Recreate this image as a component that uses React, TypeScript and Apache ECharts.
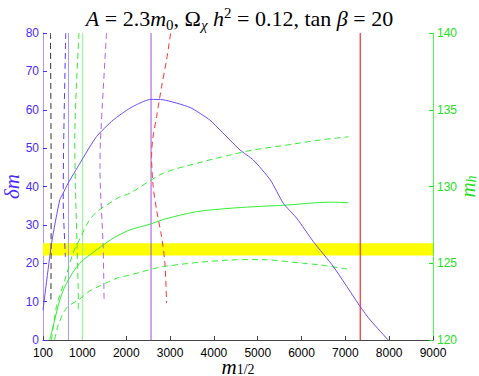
import React, { useEffect, useRef } from "react";
import * as echarts from "echarts";

// x ticks (m_1/2)
const xTicks = [100, 1000, 2000, 3000, 4000, 5000, 6000, 7000, 8000, 9000];

// delta m curve (left axis)
const dmCurve = [
  [100, 7.8], [300, 25.5], [482, 36.5], [557, 38.2], [671, 40.8], [939, 46.0],
  [1321, 53.0], [1700, 57.3], [2082, 60.4], [2400, 62.2], [2562, 62.7], [2840, 62.6],
  [3454, 60.6], [3911, 57.3], [4140, 54.7], [4368, 52.1], [4597, 49.5], [4900, 46.9],
  [5289, 41.7], [5586, 35.6], [5892, 31.7], [6271, 25.6], [6729, 19.1], [7339, 8.7],
  [7568, 5.2], [7977, 0],
];

// Higgs mass curves (right axis)
const mhCentral = [
  [253, 120], [367, 121.3], [482, 122.6], [635, 123.69], [939, 125.0], [1321, 125.86],
  [1700, 126.63], [2082, 127.17], [2562, 127.56], [2843, 127.85], [3606, 128.36],
  [4367, 128.58], [4900, 128.68], [5663, 128.79], [6653, 128.98], [7071, 128.94],
];
const mhUpper = [
  [292, 120], [406, 122.17], [482, 122.9], [635, 124.23], [786, 125.67], [939, 126.58],
  [1129, 127.67], [1321, 128.34], [1586, 128.85], [1837, 129.3], [2082, 129.56],
  [2843, 130.86], [3606, 131.51], [4367, 132.05], [4900, 132.38], [5663, 132.7],
  [6425, 133.03], [7071, 133.24],
];
const mhLower = [
  [367, 120], [443, 120.93], [635, 122.08], [939, 122.67], [1167, 123.19], [1494, 123.65],
  [1814, 124.06], [2082, 124.23], [2843, 124.78], [4367, 125.21], [5053, 125.24],
  [6043, 125.0], [6425, 124.89], [7071, 124.61],
];

// dashed contours (left axis)
const blackDashed = [[270, 80], [285, 45], [285, 25], [280, 9.6]];
const blueDashed = [[619, 80], [573, 52.1], [562, 36.5], [603, 23.5], [610, 21.6]];
const greenDashed = [[923, 80], [825, 52.1], [840, 40], [877, 24.8], [905, 10.4], [905, 7.8]];
const purpleDashed = [[1549, 80], [1412, 52.1], [1400, 45], [1471, 24.8], [1494, 10.4]];
const redDashed = [
  [3012, 79.9], [2920, 73.0], [2806, 66.0], [2692, 58.2], [2601, 52.1], [2578, 47.8],
  [2614, 40.0], [2692, 33.9], [2806, 26.9], [2882, 20.0], [2920, 9.6],
];

// vertical solid lines (x positions)
const lavenderX = 681;
const greenX = 1000;
const purpleX = 2566;
const redX = 7339;

// Higgs mass band (right axis)
const mhBand = [125.5, 126.3];

const leftColor = "#4b2bff";
const rightColor = "#22e022";

function vline(x: number) {
  return [[x, 0], [x, 80]];
}

export default function App() {
  const ref = useRef<HTMLDivElement>(null);
  useEffect(() => {
    if (!ref.current) return;
    const chart = echarts.init(ref.current, null, { renderer: "svg" });
    const lineBase = (name: string, data: number[][], color: string, dashed: boolean, yAxisIndex = 0, smooth: any = false) => ({
      name,
      type: "line",
      data,
      yAxisIndex,
      showSymbol: false,
      symbol: "none",
      smooth,
      lineStyle: { color, width: 1, type: dashed ? [6, 4] : "solid" },
      z: 3,
    });
    chart.setOption({
      animation: false,
      title: {
        text: "{i|A} = 2.3{i|m}{sub|0}, Ω{subi|χ}{i| h}{sup|2} = 0.12, tan {i|β} = 20",
        left: "center",
        top: 0,
        textStyle: {
          fontFamily: "Liberation Serif",
          fontSize: 22,
          fontWeight: "normal",
          color: "#000",
          lineHeight: 27,
          rich: {
            i: { fontFamily: "Liberation Serif", fontStyle: "italic", fontSize: 22, lineHeight: 27 },
            sub: { fontFamily: "Liberation Serif", fontSize: 15, lineHeight: 15, verticalAlign: "bottom" },
            subi: { fontFamily: "Liberation Serif", fontStyle: "italic", fontSize: 15, lineHeight: 15, verticalAlign: "bottom" },
            sup: { fontFamily: "Liberation Serif", fontSize: 15, lineHeight: 15, verticalAlign: "top" },
          },
        },
      },
      grid: { left: 43, right: 46, top: 33, bottom: 36, containLabel: false, outerBoundsMode: "none" },
      xAxis: {
        type: "value",
        min: 100,
        max: 9000,
        name: "{i|m}{sub|1/2}",
        nameLocation: "middle",
        nameGap: 18,
        nameMoveOverlap: false,
        nameTextStyle: {
          color: "#000",
          fontFamily: "Liberation Serif",
          rich: {
            i: { fontFamily: "Liberation Serif", fontStyle: "italic", fontSize: 21, lineHeight: 18 },
            sub: { fontFamily: "Liberation Serif", fontSize: 14, lineHeight: 8, verticalAlign: "bottom" },
          },
        },
        axisLine: { lineStyle: { color: "#444", width: 1 } },
        axisTick: { inside: true, length: 4, lineStyle: { color: "#444" }, customValues: xTicks },
        axisLabel: {
          color: "#000",
          fontSize: 12,
          lineHeight: 11,
          fontFamily: "Liberation Sans",
          margin: 7,
          customValues: xTicks,
          formatter: (v: number) => String(v),
        },
        splitLine: { show: false },
      },
      yAxis: [
        {
          type: "value",
          min: 0,
          max: 80,
          interval: 10,
          position: "left",
          name: "{i|δm}",
          nameLocation: "middle",
          nameGap: 21,
          nameMoveOverlap: false,
          nameRotate: 90,
          nameTextStyle: {
            color: leftColor,
            rich: { i: { fontFamily: "Liberation Serif", fontStyle: "italic", fontSize: 21, color: leftColor } },
          },
          axisLine: { show: true, lineStyle: { color: "#a898ff", width: 1 } },
          axisTick: { show: true, inside: true, length: 4, lineStyle: { color: leftColor } },
          axisLabel: { color: leftColor, fontSize: 12, fontFamily: "Liberation Sans", margin: 4 },
          splitLine: { show: false },
        },
        {
          type: "value",
          min: 120,
          max: 140,
          interval: 5,
          position: "right",
          name: "{i|m}{sub|h}",
          nameLocation: "middle",
          nameGap: 24,
          nameMoveOverlap: false,
          nameRotate: 90,
          nameTextStyle: {
            color: rightColor,
            rich: {
              i: { fontFamily: "Liberation Serif", fontStyle: "italic", fontSize: 21, color: rightColor, lineHeight: 21 },
              sub: { fontFamily: "Liberation Serif", fontStyle: "italic", fontSize: 14, color: rightColor, lineHeight: 12, verticalAlign: "bottom" },
            },
          },
          axisLine: { show: true, lineStyle: { color: "#44ff44", width: 1 } },
          axisTick: { show: true, inside: true, length: 4, lineStyle: { color: rightColor } },
          axisLabel: { color: rightColor, fontSize: 12, fontFamily: "Liberation Sans", margin: 4 },
          splitLine: { show: false },
        },
      ],
      series: [
        {
          name: "band",
          type: "line",
          yAxisIndex: 1,
          data: [],
          z: 1,
          markArea: {
            silent: true,
            itemStyle: { color: "#ffff00", opacity: 1 },
            data: [[{ yAxis: mhBand[0], xAxis: 100 }, { yAxis: mhBand[1], xAxis: 9000 }]],
          },
        },
        lineBase("black", blackDashed, "#333333", true, 0, 0.3),
        lineBase("blueDash", blueDashed, "#5a3cff", true, 0, 0.3),
        lineBase("lavender", vline(lavenderX), "#a898ff", false),
        lineBase("greenDash", greenDashed, "#33ee33", true, 0, 0.3),
        lineBase("greenSolid", vline(greenX), "#88ff88", false),
        lineBase("purpleDash", purpleDashed, "#b060ee", true, 0, 0.3),
        lineBase("purpleSolid", vline(purpleX), "#a050e0", false),
        lineBase("redDash", redDashed, "#ff3333", true, 0, 0.3),
        lineBase("redSolid", vline(redX), "#ff0000", false),
        lineBase("mhLower", mhLower, "#33ee33", true, 1, 0.3),
        lineBase("mhUpper", mhUpper, "#33ee33", true, 1, 0.3),
        lineBase("mhCentral", mhCentral, "#33ee33", false, 1, 0.3),
        lineBase("dm", dmCurve, "#6a4cff", false, 0, 0.2),
      ],
    });
    return () => chart.dispose();
  }, []);
  return (
    <div
      ref={ref}
      style={{ position: "fixed", left: 0, top: 0, width: 479, height: 376, background: "#fff" }}
    />
  );
}
